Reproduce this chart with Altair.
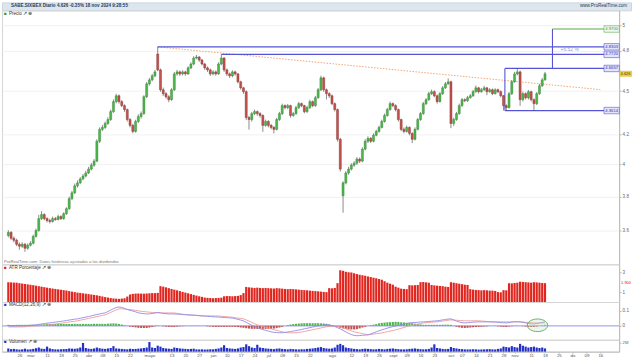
import altair as alt
import pandas as pd

FONT = "Liberation Sans"

# ---------------- data ----------------
closes = [
    3.588, 3.554, 3.543, 3.520, 3.509, 3.520, 3.498, 3.515, 3.526, 3.565,
    3.599, 3.668, 3.692, 3.668, 3.657, 3.651, 3.668, 3.663, 3.680, 3.668,
    3.697, 3.727, 3.787, 3.823, 3.866, 3.884, 3.909, 3.927, 3.946, 3.971,
    3.996, 4.022, 4.152, 4.232, 4.245, 4.272, 4.299, 4.354, 4.424, 4.466,
    4.424, 4.396, 4.368, 4.299, 4.259, 4.218, 4.286, 4.320, 4.340, 4.459,
    4.552, 4.581, 4.611, 4.640, 4.655, 4.509, 4.481, 4.459, 4.438, 4.509,
    4.625, 4.640, 4.625, 4.640, 4.625, 4.670, 4.699, 4.744, 4.752, 4.729,
    4.699, 4.670, 4.655, 4.625, 4.640, 4.625, 4.699, 4.744, 4.655, 4.625,
    4.611, 4.640, 4.625, 4.567, 4.523, 4.495, 4.313, 4.299, 4.340, 4.354,
    4.340, 4.327, 4.259, 4.286, 4.259, 4.245, 4.232, 4.299, 4.340, 4.396,
    4.382, 4.396, 4.327, 4.340, 4.382, 4.410, 4.396, 4.354, 4.382, 4.424,
    4.396, 4.452, 4.509, 4.596, 4.509, 4.481, 4.466, 4.410, 4.368, 4.165,
    3.971, 3.884, 3.946, 3.971, 3.996, 4.009, 4.035, 4.022, 4.100, 4.152,
    4.171, 4.152, 4.192, 4.218, 4.245, 4.286, 4.327, 4.368, 4.410, 4.396,
    4.368, 4.299, 4.232, 4.218, 4.245, 4.205, 4.165, 4.232, 4.299, 4.340,
    4.410, 4.438, 4.481, 4.495, 4.466, 4.424, 4.481, 4.523, 4.552, 4.567,
    4.272, 4.299, 4.340, 4.396, 4.438, 4.431, 4.452, 4.466, 4.495, 4.523,
    4.495, 4.509, 4.523, 4.495, 4.509, 4.481, 4.509, 4.495, 4.466, 4.396,
    4.382, 4.481, 4.567, 4.625, 4.640, 4.438, 4.481, 4.452, 4.495, 4.438,
    4.410, 4.481, 4.538, 4.581, 4.626]

opens = [
    3.570, 3.588, 3.554, 3.543, 3.520, 3.509, 3.520, 3.498, 3.515, 3.526,
    3.565, 3.599, 3.668, 3.692, 3.668, 3.657, 3.651, 3.668, 3.663, 3.680,
    3.668, 3.697, 3.727, 3.787, 3.823, 3.866, 3.884, 3.909, 3.927, 3.946,
    3.971, 3.996, 4.022, 4.152, 4.232, 4.245, 4.272, 4.299, 4.354, 4.424,
    4.466, 4.424, 4.396, 4.368, 4.299, 4.259, 4.218, 4.286, 4.320, 4.340,
    4.459, 4.552, 4.581, 4.611, 4.775, 4.655, 4.509, 4.481, 4.459, 4.438,
    4.509, 4.625, 4.640, 4.625, 4.640, 4.625, 4.670, 4.699, 4.744, 4.752,
    4.729, 4.699, 4.670, 4.655, 4.625, 4.640, 4.625, 4.699, 4.744, 4.655,
    4.625, 4.611, 4.640, 4.625, 4.567, 4.523, 4.495, 4.313, 4.299, 4.340,
    4.354, 4.340, 4.327, 4.259, 4.286, 4.259, 4.245, 4.232, 4.299, 4.340,
    4.396, 4.382, 4.396, 4.327, 4.340, 4.382, 4.410, 4.396, 4.354, 4.382,
    4.424, 4.396, 4.452, 4.509, 4.596, 4.509, 4.481, 4.466, 4.410, 4.368,
    4.165, 3.805, 3.884, 3.946, 3.971, 3.996, 4.009, 4.035, 4.022, 4.100,
    4.152, 4.171, 4.152, 4.192, 4.218, 4.245, 4.286, 4.327, 4.368, 4.410,
    4.396, 4.368, 4.299, 4.232, 4.218, 4.245, 4.205, 4.165, 4.232, 4.299,
    4.340, 4.410, 4.438, 4.481, 4.495, 4.466, 4.424, 4.481, 4.523, 4.552,
    4.567, 4.272, 4.299, 4.340, 4.396, 4.438, 4.431, 4.452, 4.466, 4.495,
    4.523, 4.495, 4.509, 4.523, 4.495, 4.509, 4.481, 4.509, 4.495, 4.466,
    4.396, 4.382, 4.481, 4.567, 4.625, 4.640, 4.438, 4.481, 4.452, 4.495,
    4.438, 4.410, 4.481, 4.538, 4.581]

highs = [
    3.600, 3.595, 3.565, 3.552, 3.530, 3.532, 3.528, 3.525, 3.538, 3.575,
    3.610, 3.690, 3.712, 3.700, 3.676, 3.668, 3.680, 3.678, 3.692, 3.688,
    3.705, 3.735, 3.800, 3.835, 3.880, 3.900, 3.920, 3.940, 3.960, 3.985,
    4.010, 4.035, 4.165, 4.245, 4.262, 4.285, 4.315, 4.368, 4.440, 4.480,
    4.475, 4.435, 4.405, 4.375, 4.310, 4.270, 4.298, 4.335, 4.355, 4.470,
    4.565, 4.595, 4.625, 4.655, 4.8303, 4.665, 4.525, 4.492, 4.470, 4.520,
    4.640, 4.655, 4.650, 4.652, 4.648, 4.682, 4.712, 4.758, 4.768, 4.760,
    4.738, 4.708, 4.680, 4.665, 4.652, 4.650, 4.712, 4.772, 4.752, 4.665,
    4.635, 4.652, 4.650, 4.632, 4.575, 4.530, 4.505, 4.325, 4.352, 4.368,
    4.362, 4.350, 4.335, 4.298, 4.295, 4.268, 4.255, 4.310, 4.352, 4.410,
    4.405, 4.408, 4.402, 4.352, 4.395, 4.422, 4.418, 4.402, 4.395, 4.438,
    4.432, 4.465, 4.522, 4.612, 4.605, 4.518, 4.492, 4.475, 4.418, 4.375,
    4.175, 3.895, 3.958, 3.985, 4.008, 4.022, 4.048, 4.045, 4.112, 4.165,
    4.185, 4.180, 4.205, 4.230, 4.258, 4.298, 4.340, 4.380, 4.425, 4.418,
    4.405, 4.375, 4.305, 4.245, 4.258, 4.252, 4.212, 4.245, 4.310, 4.352,
    4.422, 4.450, 4.495, 4.510, 4.505, 4.475, 4.492, 4.535, 4.565, 4.592,
    4.575, 4.312, 4.352, 4.410, 4.450, 4.448, 4.465, 4.478, 4.508, 4.540,
    4.530, 4.522, 4.538, 4.530, 4.520, 4.518, 4.520, 4.518, 4.505, 4.472,
    4.405, 4.492, 4.580, 4.640, 4.6657, 4.650, 4.495, 4.490, 4.508, 4.502,
    4.448, 4.492, 4.552, 4.595, 4.640]

lows = [
    3.560, 3.545, 3.530, 3.510, 3.490, 3.500, 3.478, 3.490, 3.508, 3.520,
    3.558, 3.592, 3.660, 3.658, 3.645, 3.640, 3.645, 3.655, 3.657, 3.660,
    3.662, 3.690, 3.720, 3.780, 3.815, 3.855, 3.878, 3.900, 3.918, 3.940,
    3.962, 3.985, 4.015, 4.140, 4.220, 4.235, 4.262, 4.290, 4.345, 4.412,
    4.410, 4.385, 4.352, 4.285, 4.245, 4.205, 4.210, 4.275, 4.305, 4.332,
    4.450, 4.540, 4.570, 4.600, 4.645, 4.495, 4.465, 4.445, 4.420, 4.430,
    4.500, 4.612, 4.610, 4.615, 4.612, 4.618, 4.660, 4.690, 4.735, 4.715,
    4.688, 4.655, 4.640, 4.610, 4.615, 4.612, 4.618, 4.690, 4.640, 4.610,
    4.595, 4.600, 4.612, 4.555, 4.510, 4.480, 4.295, 4.230, 4.285, 4.330,
    4.325, 4.312, 4.215, 4.250, 4.245, 4.232, 4.205, 4.225, 4.290, 4.330,
    4.370, 4.372, 4.312, 4.318, 4.332, 4.372, 4.385, 4.342, 4.345, 4.372,
    4.385, 4.388, 4.445, 4.500, 4.495, 4.440, 4.450, 4.398, 4.355, 4.150,
    3.955, 3.703, 3.875, 3.935, 3.962, 3.985, 3.998, 4.010, 4.015, 4.092,
    4.140, 4.140, 4.145, 4.185, 4.210, 4.238, 4.278, 4.318, 4.360, 4.385,
    4.355, 4.285, 4.220, 4.205, 4.210, 4.192, 4.140, 4.158, 4.225, 4.290,
    4.332, 4.400, 4.430, 4.472, 4.455, 4.410, 4.418, 4.472, 4.515, 4.545,
    4.240, 4.255, 4.290, 4.332, 4.388, 4.420, 4.422, 4.445, 4.458, 4.488,
    4.482, 4.488, 4.500, 4.470, 4.488, 4.470, 4.475, 4.485, 4.455, 4.3614,
    4.3614, 4.375, 4.472, 4.560, 4.615, 4.395, 4.425, 4.440, 4.440, 4.425,
    4.3614, 4.400, 4.472, 4.530, 4.575]

atr_pct = [
    2.00, 1.98, 1.96, 1.95, 1.90, 1.86, 1.82, 1.78, 1.74, 1.70,
    1.65, 1.60, 1.55, 1.50, 1.45, 1.40, 1.36, 1.32, 1.28, 1.24,
    1.20, 1.15, 1.10, 1.05, 1.00, 0.95, 0.92, 0.88, 0.84, 0.80,
    0.76, 0.72, 0.68, 0.62, 0.56, 0.50, 0.45, 0.40, 0.36, 0.34,
    0.32, 0.35, 0.38, 0.55, 0.75, 0.82, 0.85, 0.86, 0.85, 0.84,
    0.86, 0.88, 0.90, 0.90, 0.92, 1.60, 1.55, 1.48, 1.40, 1.32,
    1.25, 1.18, 1.10, 1.02, 0.95, 0.88, 0.80, 0.72, 0.65, 0.58,
    0.52, 0.45, 0.42, 0.40, 0.38, 0.40, 0.42, 0.44, 0.58, 0.60,
    0.60, 0.58, 0.60, 0.62, 0.70, 0.90, 1.52, 1.48, 1.45, 1.42,
    1.45, 1.42, 1.40, 1.42, 1.40, 1.38, 1.36, 1.40, 1.38, 1.35,
    1.32, 1.30, 1.32, 1.30, 1.28, 1.25, 1.22, 1.20, 1.18, 1.15,
    1.12, 1.10, 1.08, 1.05, 1.02, 1.00, 1.40, 1.38, 1.42, 1.90,
    3.20, 3.15, 3.05, 3.00, 2.98, 2.90, 2.82, 2.75, 2.70, 2.65,
    2.58, 2.52, 2.45, 2.40, 2.32, 2.25, 2.10, 1.95, 1.85, 1.75,
    1.55, 1.45, 1.35, 1.32, 1.30, 1.70, 1.68, 1.70, 1.72, 2.00,
    2.02, 1.98, 1.95, 1.72, 1.68, 1.65, 1.62, 1.60, 1.55, 1.52,
    2.00, 1.95, 1.90, 1.85, 1.80, 1.75, 1.72, 1.30, 1.25, 1.22,
    1.20, 1.18, 1.20, 1.18, 1.15, 1.15, 1.12, 1.00, 0.98, 1.20,
    1.18, 1.90, 1.88, 1.92, 1.95, 2.05, 2.02, 2.00, 1.98, 1.95,
    2.00, 1.98, 1.95, 1.92, 1.90]

# MACD line and signal line, in thousandths
macd_line = [
    0, -1, -1, 0, 0, 0, 1, 3, 4, 6,
    7, 10, 13, 15, 18, 20, 23, 25, 28, 30,
    33, 36, 39, 42, 45, 47, 51, 55, 59, 63,
    67, 72, 76, 80, 84, 87, 96, 106, 116, 123,
    127, 124, 117, 110, 104, 100, 94, 88, 84, 82,
    80, 81, 83, 86, 90, 87, 84, 82, 80, 80,
    80, 79, 78, 76, 75, 74, 73, 72, 71, 69,
    67, 66, 64, 63, 61, 60, 59, 58, 56, 55,
    54, 52, 48, 44, 39, 34, 24, 14, 4, -5,
    -13, -19, -25, -30, -35, -40, -43, -45, -46, -46,
    -44, -41, -38, -35, -32, -28, -24, -20, -16, -12,
    -8, -4, 0, 3, 6, 8, 6, 2, -4, -12,
    -20, -30, -40, -50, -58, -64, -66, -65, -63, -62,
    -60, -54, -47, -40, -33, -27, -21, -15, -10, -5,
    0, 4, 8, 12, 16, 20, 22, 23, 24, 26,
    27, 28, 30, 31, 33, 34, 37, 40, 43, 46,
    47, 40, 32, 26, 22, 20, 21, 23, 25, 26,
    27, 27, 27, 27, 27, 27, 26, 24, 22, 21,
    20, 22, 25, 28, 28, 27, 24, 20, 16, 14,
    13, 15, 19, 23, 27]

signal_line = [
    -7, -7, -7, -7, -7, -7, -6, -4, -3, -1,
    0, 1, 3, 4, 6, 7, 10, 12, 15, 17,
    20, 23, 26, 29, 31, 34, 38, 42, 46, 50,
    54, 58, 62, 66, 70, 74, 81, 90, 99, 107,
    114, 115, 113, 111, 109, 107, 104, 101, 98, 96,
    94, 92, 90, 89, 88, 87, 87, 87, 87, 87,
    87, 84, 81, 78, 76, 74, 72, 71, 70, 68,
    67, 67, 67, 67, 67, 67, 66, 64, 63, 61,
    60, 58, 55, 52, 50, 47, 40, 32, 24, 15,
    7, 1, -5, -10, -15, -20, -25, -30, -35, -40,
    -44, -46, -47, -47, -46, -44, -41, -38, -34, -30,
    -26, -22, -18, -14, -10, -6, -4, -3, -3, -4,
    -7, -13, -20, -27, -34, -40, -44, -48, -52, -56,
    -60, -58, -55, -52, -50, -47, -43, -39, -35, -31,
    -27, -22, -16, -11, -5, 0, 4, 8, 12, 16,
    20, 21, 23, 24, 26, 27, 30, 32, 35, 38,
    40, 39, 38, 36, 35, 34, 34, 34, 34, 34,
    34, 33, 31, 30, 28, 27, 27, 27, 27, 27,
    27, 27, 27, 27, 27, 27, 26, 24, 23, 21,
    20, 20, 20, 20, 20]

# volume, thousands of shares
volume = [
    700, 550, 600, 500, 450, 500, 650, 480, 520, 600,
    750, 900, 650, 600, 1100, 700, 550, 500, 480, 520,
    560, 600, 700, 650, 620, 700, 900, 1900, 800, 650,
    600, 700, 900, 750, 650, 600, 700, 800, 1200, 700,
    650, 600, 550, 500, 620, 580, 600, 650, 700, 800,
    900, 2100, 900, 800, 1300, 1100, 800, 700, 650, 600,
    900, 800, 700, 650, 600, 550, 600, 650, 500, 480,
    500, 450, 480, 520, 500, 600, 700, 900, 1400, 800,
    700, 650, 600, 700, 900, 1000, 1600, 1200, 900, 800,
    1500, 900, 800, 700, 650, 600, 550, 650, 700, 600,
    550, 500, 600, 550, 500, 480, 520, 500, 600, 650,
    700, 800, 900, 1000, 800, 700, 650, 700, 900, 1500,
    1700, 1400, 900, 800, 700, 600, 550, 500, 600, 650,
    600, 550, 500, 520, 600, 550, 500, 600, 650, 700,
    600, 550, 500, 480, 520, 600, 650, 700, 600, 550,
    500, 520, 600, 900, 1600, 800, 700, 600, 550, 600,
    1000, 800, 700, 600, 550, 500, 480, 500, 520, 500,
    450, 480, 500, 520, 550, 500, 480, 600, 700, 1100,
    1000, 900, 1200, 1000, 900, 1700, 1300, 1100, 900, 1000,
    1100, 900, 800, 900, 700]

# annotation levels (prices) and the bar index where each starts
level_prices = [4.8303, 4.7720, 4.6657, 4.3614]
level_start = [54, 77, 179.5, 179.5]
level_labels = ["4.8303", "4.7720", "4.6657", "4.3614"]
target_price = 4.9700
target_start = 196.7
target_label = "4.9700"
target_pct = "+6.52 %"
trend_i = [54, 214]
trend_p = [4.83, 4.51]

x_tick_idx = [4, 8, 14, 19, 24, 29, 34, 39, 44, 51, 59, 64, 69, 74, 79, 84, 89, 94, 99, 104,
              109, 117, 124, 129, 134, 139, 144, 149, 154, 160, 164, 169, 174, 179, 183, 189,
              194, 199, 204, 209, 214]
x_tick_lab = ["26", "mar", "11", "18", "25", "abr", "08", "15", "22", "mayo", "13", "20", "27",
              "jun", "10", "17", "24", "jul", "08", "15", "22", "ago", "12", "19", "26", "sept",
              "09", "16", "23", "oct", "07", "14", "21", "28", "nov", "11", "18", "25", "dic",
              "09", "16"]
price_ticks = [3.6, 3.8, 4.0, 4.2, 4.5, 4.8, 5.0]
atr_ticks = [1, 3]

title_text = "SABE.SIXBEX Diario 4.626 -0.35% 18 nov 2024 9:28:55"
site_text = "www.ProRealTime.com"
note_text = "ProRealTime.com: Datos históricos ajustados a los dividendos"

# ---------------- tables ----------------
n = len(closes)
df = pd.DataFrame({
    "i": list(range(n)), "open": opens, "high": highs, "low": lows, "close": closes,
    "atr": atr_pct, "macd": macd_line, "signal": signal_line, "vol": volume,
})
df["dir"] = ["up" if c >= o else "down" for o, c in zip(opens, closes)]
df["hist"] = df["macd"] - df["signal"]
df["hdir"] = ["pos" if h >= 0 else "neg" for h in df["hist"]]

W = 622
XMAX = 219
XS = alt.Scale(domain=[-0.5, XMAX], nice=False, zero=False)
X = alt.X("i:Q", scale=XS, axis=None)

GREEN, GREEN_D = "#4cb84c", "#2d7a2d"
RED, RED_D = "#c4524e", "#7e2b28"
BLUE = "#5454d4"

RECT = "M-1,-0.42L1,-0.42L1,0.42L-1,0.42Z"
ELLIPSE = "M-1,0A1,0.62,0,1,0,1,0A1,0.62,0,1,0,-1,0Z"

one = pd.DataFrame({"k": [0]})

# ---------------- title bar ----------------
title_panel = alt.layer(
    alt.Chart(one).mark_text(align="left", baseline="middle", fontSize=4.6, fontWeight="bold",
                             color="#2b3b55", font=FONT).encode(
        x=alt.value(9), y=alt.value(4), text=alt.value(title_text)),
    alt.Chart(one).mark_text(align="right", baseline="middle", fontSize=4.6, color="#2b3b55",
                             font=FONT).encode(
        x=alt.value(630), y=alt.value(4), text=alt.value(site_text)),
).properties(width=634, height=8, view=alt.ViewBackground(fill="#dbe6ee", stroke="#c9d6e0"))

# ---------------- price panel ----------------
YP = alt.Scale(type="log", domain=[3.409, 5.121], nice=False, zero=False)
PAX = alt.Axis(orient="right", values=price_ticks, title=None, grid=True, gridColor="#f1f1f1",
               labelFontSize=4.6, labelColor="#666", labelPadding=1, tickSize=2,
               tickColor="#bbb", domainColor="#bbb", labelExpr="format(datum.value, '.1~f')")


def py(field):
    return alt.Y(field, scale=YP, axis=PAX)


base = alt.Chart(df)

lv = pd.DataFrame({"x1": level_start, "x2": [XMAX] * len(level_start), "p": level_prices,
                   "t": level_labels})
tg = pd.DataFrame({"x1": [target_start], "x2": [XMAX], "p": [target_price], "t": [target_label]})
vl = pd.DataFrame({"x": [level_start[2], target_start], "p1": [level_prices[3], level_prices[2]],
                   "p2": [level_prices[2], target_price]})
tr = pd.DataFrame({"i": trend_i, "p": trend_p})
last = pd.DataFrame({"p": [closes[-1]], "t": [f"{closes[-1]:.3f}"]})
pct = pd.DataFrame({"p": [4.815], "t": [target_pct]})

price_panel = alt.layer(
    alt.Chart(tr).mark_line(color="#f2a474", strokeWidth=1, strokeDash=[1.5, 1.5]).encode(
        x=alt.X("i:Q", scale=XS, axis=None), y=py("p:Q")),
    alt.Chart(lv).mark_rule(color=BLUE, strokeWidth=1.3).encode(
        x=alt.X("x1:Q", scale=XS, axis=None), x2="x2:Q", y=py("p:Q")),
    alt.Chart(tg).mark_rule(color="#5aab4a", strokeWidth=1.1).encode(
        x=alt.X("x1:Q", scale=XS, axis=None), x2="x2:Q", y=py("p:Q")),
    alt.Chart(vl).mark_rule(color=BLUE, strokeWidth=1.1).encode(
        x=alt.X("x:Q", scale=XS, axis=None), y=py("p1:Q"), y2="p2:Q"),
    base.mark_rule(color="#3c3c3c", strokeWidth=0.6).encode(x=X, y=py("low:Q"), y2="high:Q"),
    base.mark_bar(width=2.1, strokeWidth=0.4).encode(
        x=X, y=py("open:Q"), y2="close:Q",
        fill=alt.Fill("dir:N", scale=alt.Scale(domain=["up", "down"], range=[GREEN, RED]),
                      legend=None),
        stroke=alt.Stroke("dir:N", scale=alt.Scale(domain=["up", "down"],
                                                   range=[GREEN_D, RED_D]), legend=None)),
    alt.Chart(lv).mark_point(shape=RECT, size=240, filled=True, fill="#e4e4fb", stroke=BLUE,
                             strokeWidth=0.6, opacity=1).encode(
        x=alt.value(614.5), y=py("p:Q")),
    alt.Chart(lv).mark_text(fontSize=4.2, color="#2b2ba8", font=FONT).encode(
        x=alt.value(614.5), y=py("p:Q"), text="t:N"),
    alt.Chart(tg).mark_point(shape=RECT, size=240, filled=True, fill="#f2faf0", stroke="#5aab4a",
                             strokeWidth=0.6, opacity=1).encode(
        x=alt.value(614.5), y=py("p:Q")),
    alt.Chart(tg).mark_text(fontSize=4.2, color="#3d8a30", font=FONT).encode(
        x=alt.value(614.5), y=py("p:Q"), text="t:N"),
    alt.Chart(pct).mark_text(fontSize=5, color="#9a9ad8", align="left", font=FONT).encode(
        x=alt.value(563), y=py("p:Q"), text="t:N"),
    alt.Chart(last).mark_point(shape=RECT, size=150, filled=True, fill="#f3d23c",
                               stroke="#d9b21a", strokeWidth=0.5, opacity=1).encode(
        x=alt.value(628.5), y=py("p:Q")),
    alt.Chart(last).mark_text(fontSize=4, color="#333", font=FONT).encode(
        x=alt.value(628.5), y=py("p:Q"), text="t:N"),
    alt.Chart(one).mark_text(align="left", baseline="middle", fontSize=4.6, color="#2e9a2e",
                             font=FONT).encode(x=alt.value(2), y=alt.value(3.5), text=alt.value("■")),
    alt.Chart(one).mark_text(align="left", baseline="middle", fontSize=4.6, color="#333",
                             font=FONT).encode(x=alt.value(7), y=alt.value(3.5),
                                               text=alt.value("Precio ↗ ⊕")),
    alt.Chart(one).mark_text(align="left", baseline="middle", fontSize=4.2, color="#777",
                             font=FONT).encode(x=alt.value(2), y=alt.value(253.5),
                                               text=alt.value(note_text)),
).properties(width=W, height=256)

# ---------------- ATR panel ----------------
YA = alt.Scale(domain=[0, 3.8], nice=False, zero=False)
AAX = alt.Axis(orient="right", values=atr_ticks, title=None, grid=False, labelFontSize=4.6,
               labelColor="#666", labelPadding=1, tickSize=2, tickColor="#bbb", domainColor="#bbb")
atr_last = pd.DataFrame({"v": [atr_pct[-1]], "t": [f"{atr_pct[-1]:.3f}"]})
atr_panel = alt.layer(
    base.mark_bar(width=2.2, color="#e0261f").encode(
        x=X, y=alt.Y("atr:Q", scale=YA, axis=AAX), y2=alt.datum(0)),
    alt.Chart(atr_last).mark_text(fontSize=4, color="#d42020", align="left", font=FONT).encode(
        x=alt.value(624), y=alt.Y("v:Q", scale=YA, axis=AAX), text="t:N"),
    alt.Chart(one).mark_text(align="left", baseline="middle", fontSize=4.6, color="#d42020",
                             font=FONT).encode(x=alt.value(2), y=alt.value(3.5), text=alt.value("■")),
    alt.Chart(one).mark_text(align="left", baseline="middle", fontSize=4.6, color="#333",
                             font=FONT).encode(x=alt.value(7), y=alt.value(3.5),
                                               text=alt.value("ATR Porcentaje ↗ ⊕")),
).properties(width=W, height=38)

# ---------------- MACD panel ----------------
YM = alt.Scale(domain=[-93, 160], nice=False, zero=False)
MAX_ = alt.Axis(orient="right", values=[0, 100], title=None, grid=False, labelFontSize=4.6,
                labelColor="#666", labelPadding=1, tickSize=2, tickColor="#bbb", domainColor="#bbb",
                labelExpr="datum.value == 0 ? '0' : format(datum.value / 1000, '.1f')")
ell = pd.DataFrame({"i": [191.3], "m": [4]})
macd_panel = alt.layer(
    alt.Chart(one).mark_rule(color="#a9a9ec", strokeWidth=1.2).encode(
        y=alt.Y(datum=0, scale=YM, axis=MAX_)),
    base.mark_bar(width=2.1).encode(
        x=X, y=alt.Y("hist:Q", scale=YM, axis=MAX_), y2=alt.datum(0),
        fill=alt.Fill("hdir:N", scale=alt.Scale(domain=["pos", "neg"],
                                                range=["#3caa3c", "#d8322c"]), legend=None)),
    base.mark_line(color="#f09a9a", strokeWidth=0.9).encode(
        x=X, y=alt.Y("signal:Q", scale=YM, axis=MAX_)),
    base.mark_line(color="#8c8ce8", strokeWidth=0.9).encode(
        x=X, y=alt.Y("macd:Q", scale=YM, axis=MAX_)),
    alt.Chart(ell).mark_point(shape=ELLIPSE, size=420, filled=True, fill="#bfe6bf",
                              fillOpacity=0.3, stroke="#63b463", strokeWidth=1, opacity=1).encode(
        x=alt.X("i:Q", scale=XS, axis=None), y=alt.Y("m:Q", scale=YM, axis=MAX_)),
    alt.Chart(one).mark_text(align="left", baseline="middle", fontSize=4.6, color="#3434c8",
                             font=FONT).encode(x=alt.value(2), y=alt.value(2.5), text=alt.value("■")),
    alt.Chart(one).mark_text(align="left", baseline="middle", fontSize=4.6, color="#333",
                             font=FONT).encode(x=alt.value(7), y=alt.value(2.5),
                                               text=alt.value("MACD(12,26,9) ↗ ⊕")),
).properties(width=W, height=38)

# ---------------- volume panel ----------------
YV = alt.Scale(domain=[0, 2600], nice=False, zero=False)
VAX = alt.Axis(orient="right", values=[2000], title=None, grid=False, labelFontSize=4.2,
               labelColor="#666", labelPadding=1, tickSize=2, tickColor="#bbb", domainColor="#bbb",
               labelExpr="format(datum.value / 1000, '.0f') + 'M'")
label_arr = "[" + ",".join(f"'{s}'" for s in x_tick_lab) + "]"
idx_arr = "[" + ",".join(str(v) for v in x_tick_idx) + "]"
XAX = alt.Axis(values=x_tick_idx, title=None, grid=False, labelFontSize=4.4, labelColor="#555",
               labelPadding=0.5, tickSize=1.5, tickColor="#bbb", domainColor="#bbb",
               labelExpr=f"{label_arr}[indexof({idx_arr}, datum.value)]")
vol_panel = alt.layer(
    base.mark_bar(width=2.2, color="#2330c8").encode(
        x=alt.X("i:Q", scale=XS, axis=XAX), y=alt.Y("vol:Q", scale=YV, axis=VAX), y2=alt.datum(0)),
    alt.Chart(one).mark_text(align="left", baseline="middle", fontSize=4.6, color="#2330c8",
                             font=FONT).encode(x=alt.value(2), y=alt.value(2), text=alt.value("■")),
    alt.Chart(one).mark_text(align="left", baseline="middle", fontSize=4.6, color="#333",
                             font=FONT).encode(x=alt.value(7), y=alt.value(2),
                                               text=alt.value("Volumen ↗ ⊕")),
).properties(width=W, height=12)

chart = alt.vconcat(
    title_panel, price_panel, atr_panel, macd_panel, vol_panel, spacing=0, bounds="flush"
).properties(padding=0).configure_view(stroke="#d4d4d4").configure_axis(
    labelFont=FONT).configure_text(font=FONT)

chart.save("out.html", embed_options={"renderer": "svg", "actions": False})
